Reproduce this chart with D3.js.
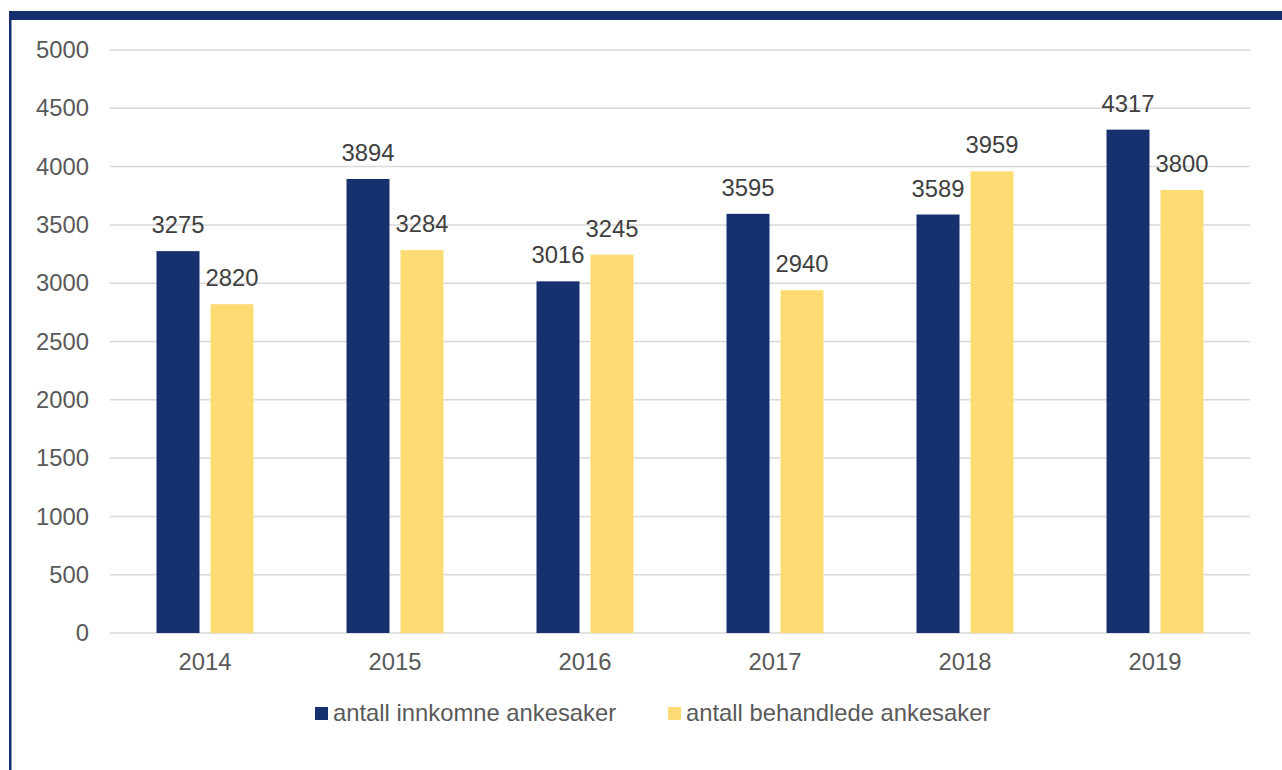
<!DOCTYPE html>
<html>
<head>
<meta charset="utf-8">
<script src="https://cdn.jsdelivr.net/npm/d3@7"></script>
<style>
  html, body { margin: 0; padding: 0; background: #fff; }
  svg { display: block; font-family: "Liberation Sans", Arial, sans-serif; }
</style>
</head>
<body>
<svg id="chart" width="1282" height="770"></svg>
<script>
// Ankesaker per år
const years = ["2014", "2015", "2016", "2017", "2018", "2019"];
const innkomne = [3275, 3894, 3016, 3595, 3589, 4317];
const behandlede = [2820, 3284, 3245, 2940, 3959, 3800];
const seriesNames = ["antall innkomne ankesaker", "antall behandlede ankesaker"];
const seriesColors = ["#17306f", "#ffdc73"];
const yTicks = [0, 500, 1000, 1500, 2000, 2500, 3000, 3500, 4000, 4500, 5000];

const fontSize = "23.8px";
const svg = d3.select("#chart");

// frame: heavy top rule and thin left rule
svg.append("rect").attr("x", 9).attr("y", 11).attr("width", 1273).attr("height", 9).attr("fill", "#17306f");
svg.append("rect").attr("x", 9).attr("y", 11).attr("width", 2.5).attr("height", 759).attr("fill", "#17306f");

const plotLeft = 110, plotRight = 1250, plotTop = 50, plotBottom = 633;

const y = d3.scaleLinear().domain([0, 5000]).range([plotBottom, plotTop]);
const x0 = d3.scaleBand().domain(years).range([plotLeft, plotRight]).paddingInner(0).paddingOuter(0);

// gridlines
svg.append("g")
  .selectAll("line")
  .data(yTicks)
  .join("line")
  .attr("x1", plotLeft).attr("x2", plotRight)
  .attr("y1", d => y(d)).attr("y2", d => y(d))
  .attr("stroke", "#d9d9d9").attr("stroke-width", 1.5);

// y axis labels
const yAxis = d3.axisLeft(y).tickValues(yTicks).tickFormat(d3.format("d")).tickSize(0).tickPadding(21);
const gy = svg.append("g").attr("transform", `translate(${plotLeft},0)`).call(yAxis);
gy.select(".domain").remove();
gy.selectAll("text").attr("fill", "#595959").style("font-size", fontSize)
  .style("font-family", '"Liberation Sans", Arial, sans-serif');

// x axis labels
const xAxis = d3.axisBottom(x0).tickSize(0).tickPadding(20);
const gx = svg.append("g").attr("transform", `translate(0,${plotBottom})`).call(xAxis);
gx.select(".domain").remove();
gx.selectAll("text").attr("fill", "#595959").style("font-size", fontSize)
  .style("font-family", '"Liberation Sans", Arial, sans-serif');

// bars
const rows = years.map((yr, i) => ({ year: yr, values: [innkomne[i], behandlede[i]] }));
const barW = 43, gap = 11;
const offsets = [-(gap / 2 + barW), gap / 2];

const groups = svg.append("g").selectAll("g").data(rows).join("g")
  .attr("transform", d => `translate(${x0(d.year) + x0.bandwidth() / 2},0)`);

groups.selectAll("rect")
  .data(d => d.values.map((v, k) => ({ v, k })))
  .join("rect")
  .attr("x", d => offsets[d.k])
  .attr("width", barW)
  .attr("y", d => y(d.v))
  .attr("height", d => plotBottom - y(d.v))
  .attr("fill", d => seriesColors[d.k]);

groups.selectAll("text.lbl")
  .data(d => d.values.map((v, k) => ({ v, k })))
  .join("text")
  .attr("class", "lbl")
  .attr("x", d => offsets[d.k] + barW / 2)
  .attr("y", d => y(d.v) - 18)
  .attr("text-anchor", "middle")
  .attr("fill", "#404040")
  .style("font-size", fontSize)
  .text(d => d.v);

// legend
const legendPos = [315, 668];
const lg = svg.append("g").selectAll("g").data(seriesNames).join("g")
  .attr("transform", (d, i) => `translate(${legendPos[i]},0)`);
lg.append("rect").attr("x", 0).attr("y", 707).attr("width", 13).attr("height", 13)
  .attr("fill", (d, i) => seriesColors[i]);
lg.append("text").attr("x", 18).attr("y", 721)
  .attr("fill", "#595959").style("font-size", fontSize).text(d => d);
</script>
</body>
</html>
